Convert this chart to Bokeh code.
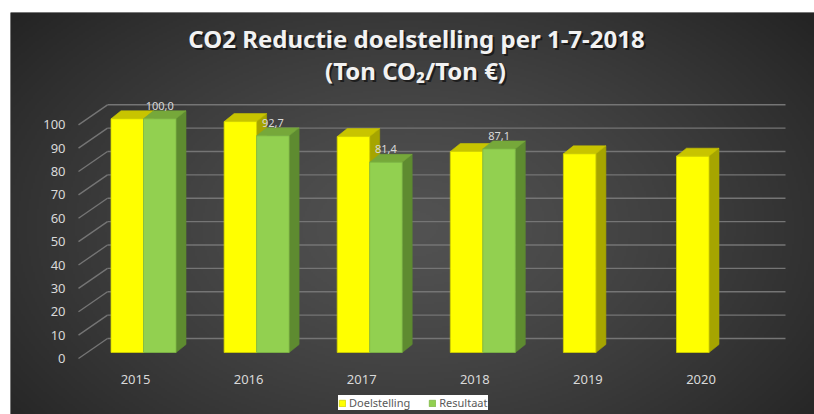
import numpy as np
from bokeh.plotting import figure
from bokeh.models import Range1d, Legend, LegendItem, Spacer
from bokeh.layouts import column, row
from bokeh.core.properties import value
from bokeh.embed import file_html
from bokeh.resources import INLINE

# ---------------- data ----------------
years = ["2015", "2016", "2017", "2018", "2019", "2020"]
doelstelling = [100.0, 98.8, 92.4, 86.0, 85.0, 84.0]
resultaat = [100.0, 92.7, 81.4, 87.1, None, None]
y_ticks = [0, 10, 20, 30, 40, 50, 60, 70, 80, 90, 100]
series_names = ["Doelstelling", "Resultaat"]
title_line1 = "CO2 Reductie doelstelling per 1-7-2018"
title_line2 = "(Ton CO\u2082/Ton \u20ac)"

# ---------------- layout / style ----------------
W, H = 804, 402
PX_X = 113.1      # pixels per category
PX_Y = 2.337      # pixels per value unit
X0, Y0 = 133, 340  # pixel position of first category / value 0 inside figure


def ux(px):
    return px / PX_X


def uy(px):
    return px / PX_Y


x_range = Range1d(-ux(X0), ux(W - X0))
y_range = Range1d(-uy(H - Y0), uy(Y0))

FONT = "Noto Sans"
BAR_W = ux(32.5)
DX, DY = ux(10), uy(8)          # 3D depth of bars
FLOOR_FRONT = (ux(-65), uy(-6))  # floor front edge offset
BACK = (ux(-36), uy(14))        # back wall offset
GRID_RIGHT = ux(785 - 143)

colors = {
    "Doelstelling": ("#FFFF00", "#C8C400", "#A6A500", "#D2D200"),
    "Resultaat": ("#92D050", "#76A83A", "#5E8B30", "#7FB845"),
}

p = figure(width=W, height=H, x_range=x_range, y_range=y_range,
           x_axis_type=None, y_axis_type=None, toolbar_location=None,
           output_backend="svg", min_border=0, outline_line_color=None,
           background_fill_color="#2b2b2b", border_fill_color="#2b2b2b")

# background radial gradient
gw, gh = W // 2, H // 2
gx = (np.arange(gw) + 0.5) * 2
gy = (np.arange(gh) + 0.5) * 2
GX, GY = np.meshgrid(gx, gy)
r = np.sqrt(((GX - 400) / 520.0) ** 2 + ((GY - 215) / 330.0) ** 2)
t = np.clip(r, 0, 1) ** 1.3
c = (82 + (36 - 82) * t).astype(np.uint8)
img = np.empty((gh, gw, 4), dtype=np.uint8)
img[..., 0] = c
img[..., 1] = c
img[..., 2] = c
img[..., 3] = 255
img = np.ascontiguousarray(img[::-1])
p.image_rgba(image=[img.view(np.uint32).reshape(gh, gw)],
             x=x_range.start, y=y_range.start,
             dw=x_range.end - x_range.start, dh=y_range.end - y_range.start)

# back wall gridlines and diagonal floor/side lines
grid_col = "#757575"
p.segment(x0=[BACK[0]] * len(y_ticks), y0=[v + BACK[1] for v in y_ticks],
          x1=[GRID_RIGHT] * len(y_ticks), y1=[v + BACK[1] for v in y_ticks],
          line_color=grid_col, line_width=1.4)
p.segment(x0=[FLOOR_FRONT[0]] * len(y_ticks), y0=[v + FLOOR_FRONT[1] for v in y_ticks],
          x1=[BACK[0]] * len(y_ticks), y1=[v + BACK[1] for v in y_ticks],
          line_color=grid_col, line_width=1.4)

# y tick labels
p.text(x=[ux(65 - 143)] * len(y_ticks), y=[v + FLOOR_FRONT[1] for v in y_ticks],
       text=[str(v) for v in y_ticks], text_align="right", text_baseline="middle",
       text_font=value(FONT), text_font_size="13px", text_color="#d9d9d9")

# x tick labels
p.text(x=[i + ux(-8) for i in range(len(years))], y=[uy(-27)] * len(years),
       text=years, text_align="center", text_baseline="middle",
       text_font=value(FONT), text_font_size="13px", text_color="#d9d9d9")

# 3D bars
front_renderers = {}
for s, (name, vals) in enumerate(zip(series_names, [doelstelling, resultaat])):
    front, top, side, edge = colors[name]
    idx = [i for i, v in enumerate(vals) if v is not None]
    v = [vals[i] for i in idx]
    x0 = [i - BAR_W if s == 0 else i for i in idx]
    x1 = [a + BAR_W for a in x0]
    p.patches(xs=[[b, b + DX, b + DX, b] for b in x1],
              ys=[[0, DY, h + DY, h] for h in v],
              fill_color=side, line_color=side, line_width=0.6)
    p.patches(xs=[[a, b, b + DX, a + DX] for a, b in zip(x0, x1)],
              ys=[[h, h, h + DY, h + DY] for h in v],
              fill_color=top, line_color=top, line_width=0.6)
    front_renderers[name] = p.quad(left=x0, right=x1, bottom=[0] * len(v), top=v,
                                   fill_color=front, line_color=edge, line_width=0.8)

# data labels for Resultaat
ridx = [i for i, v in enumerate(resultaat) if v is not None]
p.text(x=[i + BAR_W / 2 for i in ridx], y=[resultaat[i] for i in ridx],
       text=[f"{resultaat[i]:.1f}".replace(".", ",") for i in ridx],
       y_offset=-13, text_align="center", text_baseline="middle",
       text_font=value(FONT), text_font_size="11px", text_color="#d9d9d9")

# title (with soft shadow)
tx = [ux(406 - X0), ux(405 - X0)]
ty = [uy(Y0 - 26), uy(Y0 - 58)]
for col, alpha, off in [("#000000", 0.55, 2), ("#f2f2f2", 1.0, 0)]:
    p.text(x=tx, y=ty, text=[title_line1, title_line2], x_offset=off, y_offset=off,
           text_align="center", text_baseline="middle", text_font=value(FONT),
           text_font_style="bold", text_font_size="24px", text_color=col,
           text_alpha=alpha)

legend = Legend(items=[LegendItem(label=n, renderers=[front_renderers[n]]) for n in series_names],
                location=(328, 4), orientation="horizontal",
                background_fill_color="white", background_fill_alpha=1.0,
                border_line_color=None, label_text_font=FONT,
                label_text_font_size="11px", label_text_color="#595959",
                glyph_width=8, glyph_height=8, label_height=12, label_standoff=3,
                padding=6, spacing=18, margin=0)
p.add_layout(legend)

layout = column(Spacer(height=12), row(Spacer(width=10), p))
open("out.html", "w").write(file_html(layout, INLINE))
